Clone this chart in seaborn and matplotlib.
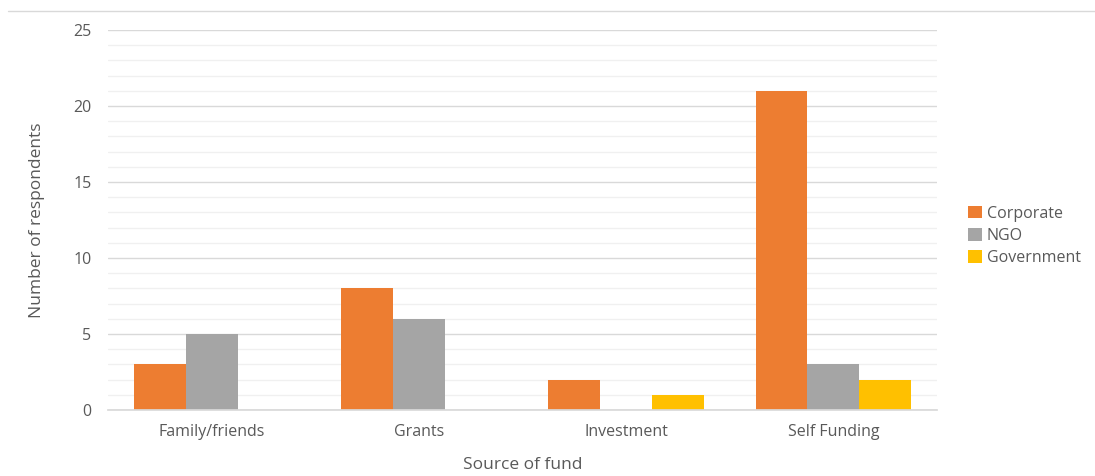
import matplotlib
matplotlib.use("Agg")
import matplotlib.pyplot as plt
from matplotlib.lines import Line2D
from matplotlib.ticker import MultipleLocator
import seaborn as sns
import pandas as pd

categories = ["Family/friends", "Grants", "Investment", "Self Funding"]
series = ["Corporate", "NGO", "Government"]
corporate = [3, 8, 2, 21]
ngo = [5, 6, 0, 3]
government = [0, 0, 1, 2]
colors = ["#ED7D31", "#A5A5A5", "#FFC000"]

rows = []
for name, vals in zip(series, [corporate, ngo, government]):
    for cat, v in zip(categories, vals):
        rows.append({"Source of fund": cat, "Sector": name, "Count": v})
df = pd.DataFrame(rows)

sns.set_theme(style="white")
plt.rcParams["font.family"] = ["Open Sans", "DejaVu Sans"]
text_color = "#595959"

fig = plt.figure(figsize=(10.95, 4.76), dpi=100)
ax = fig.add_axes([0.0986, 0.1387, 0.7571, 0.7983])

sns.barplot(data=df, x="Source of fund", y="Count", hue="Sector",
            hue_order=series, order=categories, palette=colors,
            width=0.75, gap=0, saturation=1, linewidth=0, ax=ax)

ax.set_ylim(0, 25)
ax.yaxis.set_major_locator(MultipleLocator(5))
ax.yaxis.set_minor_locator(MultipleLocator(1))
ax.grid(which="major", axis="y", color="#D9D9D9", linewidth=1.0)
ax.grid(which="minor", axis="y", color="#F0F0F0", linewidth=1.0)
ax.set_axisbelow(True)
for s in ["top", "right", "left"]:
    ax.spines[s].set_visible(False)
ax.spines["bottom"].set_color("#D9D9D9")
ax.tick_params(axis="both", which="both", length=0, colors=text_color, labelsize=11.5)
ax.tick_params(axis="x", pad=10)
ax.tick_params(axis="y", pad=12)

ax.set_xlabel("Source of fund", fontsize=12.5, color=text_color, labelpad=12)
ax.set_ylabel("Number of respondents", fontsize=12.5, color=text_color, labelpad=20)

leg = ax.legend(loc="center left", bbox_to_anchor=(1.03, 0.458), frameon=False,
                fontsize=11.5, handlelength=0.85, handleheight=0.85,
                handletextpad=0.3, labelspacing=0.4, borderaxespad=0)
for t in leg.get_texts():
    t.set_color(text_color)

fig.add_artist(Line2D([0.007, 1.0], [0.977, 0.977], transform=fig.transFigure,
                      color="#D9D9D9", linewidth=1.0))

fig.savefig("out.png", dpi=100)
